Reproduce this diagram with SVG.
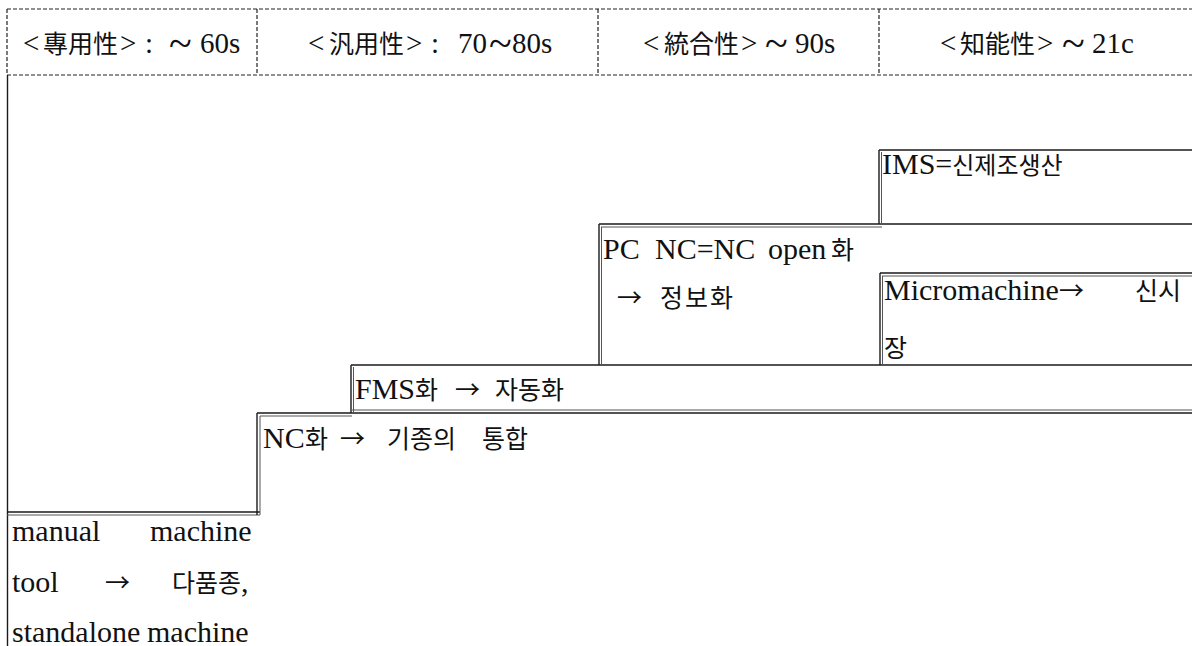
<svg xmlns="http://www.w3.org/2000/svg" width="1192" height="646" viewBox="0 0 1192 646">
<style>
.dash{stroke:#222;stroke-width:1.2;stroke-dasharray:4 2;fill:none}
.ln{stroke:#1a1a1a;stroke-width:1.4;fill:none}
.ln2{stroke:#555;stroke-width:1;fill:none}
text{fill:#111}
.hl{font-family:"Liberation Serif",serif;font-size:29px}
.hk{font-family:"Noto Sans CJK KR","Noto Sans CJK SC",sans-serif;font-size:25px}
.tl{font-family:"Liberation Serif",serif;font-size:42px}
.lt{font-family:"Liberation Serif",serif;font-size:30px}
.kr{font-family:"Noto Sans CJK KR",sans-serif;font-size:25px}
.ks{font-family:"Noto Sans CJK KR",sans-serif;font-size:24px}
</style>
<rect width="1192" height="646" fill="#fff"/>
<g id="header">
<line class="dash" x1="7" y1="9" x2="1192" y2="9"/>
<line class="dash" x1="7" y1="75" x2="1192" y2="75"/>
<line class="dash" x1="7" y1="9" x2="7" y2="75"/>
<line class="dash" x1="257" y1="9" x2="257" y2="75"/>
<line class="dash" x1="598" y1="9" x2="598" y2="75"/>
<line class="dash" x1="879" y1="9" x2="879" y2="75"/>
<text y="53"><tspan class="hl" x="23">&lt;</tspan><tspan class="hk" x="43">專用性</tspan><tspan class="hl" x="120">&gt;</tspan><tspan class="hl" x="145">:</tspan><tspan class="tl" x="169" y="57">~</tspan><tspan class="hl" x="200" y="53">60s</tspan></text>
<text y="53"><tspan class="hl" x="308">&lt;</tspan><tspan class="hk" x="329">汎用性</tspan><tspan class="hl" x="406">&gt;</tspan><tspan class="hl" x="431">:</tspan><tspan class="hl" x="458">70</tspan><tspan class="tl" x="489" y="57">~</tspan><tspan class="hl" x="512" y="53">80s</tspan></text>
<text y="53"><tspan class="hl" x="643">&lt;</tspan><tspan class="hk" x="664">統合性</tspan><tspan class="hl" x="741">&gt;</tspan><tspan class="tl" x="765" y="57">~</tspan><tspan class="hl" x="795" y="53">90s</tspan></text>
<text y="53"><tspan class="hl" x="940">&lt;</tspan><tspan class="hk" x="960">知能性</tspan><tspan class="hl" x="1037">&gt;</tspan><tspan class="tl" x="1062" y="57">~</tspan><tspan class="hl" x="1092" y="53">21c</tspan></text>
</g>
<g id="connectors">
<line class="ln" x1="7.5" y1="75" x2="7.5" y2="646"/>
</g>
<g id="node-manual">
<line class="ln" x1="7" y1="512" x2="260" y2="512"/>
<line class="ln2" x1="7" y1="515" x2="260" y2="515"/>
<text y="541"><tspan class="lt" x="12">manual</tspan><tspan class="lt" x="150">machine</tspan></text>
<text y="592"><tspan class="lt" x="12">tool</tspan><tspan class="kr" x="105">→</tspan><tspan class="kr" x="172">다품종</tspan><tspan class="lt">,</tspan></text>
<text y="642"><tspan class="lt" x="12">standalone</tspan><tspan class="lt" x="147">machine</tspan></text>
</g>
<g id="node-nc">
<line class="ln" x1="257" y1="413" x2="257" y2="515"/>
<line class="ln2" x1="260" y1="416" x2="260" y2="515"/>
<line class="ln" x1="257" y1="413" x2="1192" y2="413"/>
<line class="ln2" x1="260" y1="416" x2="352" y2="416"/>
<text y="448"><tspan class="lt" x="263">NC</tspan><tspan class="kr" x="305">화</tspan><tspan class="kr" x="340">→</tspan><tspan class="kr" x="387">기종의</tspan><tspan class="kr" x="482">통합</tspan></text>
</g>
<g id="node-fms">
<line class="ln" x1="351" y1="365" x2="351" y2="413"/>
<line class="ln2" x1="353.5" y1="367" x2="353.5" y2="413"/>
<line class="ln" x1="351" y1="365" x2="1192" y2="365"/>
<line class="ln2" x1="352" y1="410" x2="1192" y2="410"/>
<text y="399"><tspan class="lt" x="355">FMS</tspan><tspan class="kr" x="415">화</tspan><tspan class="kr" x="455">→</tspan><tspan class="kr" x="495">자동화</tspan></text>
</g>
<g id="node-pcnc">
<line class="ln" x1="599" y1="224" x2="599" y2="365"/>
<line class="ln2" x1="601.5" y1="227" x2="601.5" y2="365"/>
<line class="ln" x1="599" y1="224" x2="1192" y2="224"/>
<line class="ln2" x1="601" y1="227" x2="882" y2="227"/>
<text y="259"><tspan class="lt" x="603">PC</tspan><tspan class="lt" x="655">NC=NC</tspan><tspan class="lt" x="768">open</tspan><tspan class="kr" x="831">화</tspan></text>
<text y="307"><tspan class="kr" x="617">→</tspan><tspan class="kr" x="660" style="letter-spacing:2px">정보화</tspan></text>
</g>
<g id="node-ims">
<line class="ln" x1="879" y1="150" x2="879" y2="224"/>
<line class="ln2" x1="881.5" y1="152" x2="881.5" y2="224"/>
<line class="ln" x1="879" y1="150" x2="1192" y2="150"/>
<text y="174"><tspan class="lt" x="882">IMS=</tspan><tspan class="ks">신제조생산</tspan></text>
</g>
<g id="node-micro">
<line class="ln" x1="880" y1="273" x2="1192" y2="273"/>
<line class="ln2" x1="882" y1="276" x2="1192" y2="276"/>
<line class="ln" x1="880" y1="273" x2="880" y2="365"/>
<line class="ln2" x1="882.5" y1="276" x2="882.5" y2="365"/>
<text y="300"><tspan class="lt" x="884">Micromachine</tspan><tspan class="kr">→</tspan><tspan class="kr" x="1135">신시</tspan></text>
<text y="357"><tspan class="kr" x="884">장</tspan></text>
</g>
</svg>
